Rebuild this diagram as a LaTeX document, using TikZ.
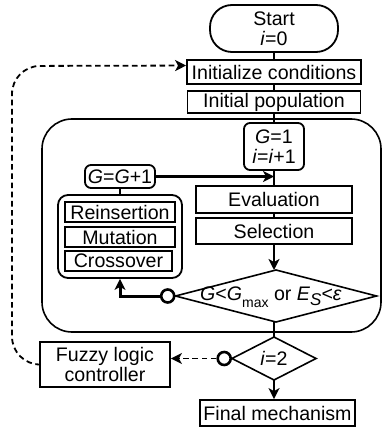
\documentclass[tikz,border=0pt]{standalone}
\usepackage{fontspec}
\setmainfont{Liberation Sans}
\usetikzlibrary{arrows.meta,calc}
\tikzset{
  box/.style={draw, line width=0.9pt, inner sep=0pt, align=center, font=\fontsize{9.8}{10}\selectfont},
  rbox/.style={box, rounded corners=3pt},
  diatext/.style={inner sep=0pt, align=center, font=\fontsize{9.8}{10}\selectfont},
  diaedge/.style={line width=0.8pt, line join=miter},
  conn/.style={line width=1.1pt},
  arr/.style={conn, -{Stealth[length=5.5pt,width=5.5pt,inset=1.5pt]}},
  thickarr/.style={line width=1.5pt, -{Stealth[length=5.5pt,width=5.5pt,inset=1.5pt]}},
  dasharr/.style={line width=0.9pt, dash pattern=on 2.8pt off 1.8pt, -{Stealth[length=5.5pt,width=5.5pt,inset=1.5pt]}},
  ring/.style={circle, draw, line width=1.3pt, minimum size=6.5pt, inner sep=0pt, fill=white},
}
\begin{document}
\begin{tikzpicture}[x=0.5pt,y=-0.5pt]
\useasboundingbox (0,0) rectangle (383,427);
\draw[line width=0.8pt, rounded corners=15pt] (42,119) rectangle (381,332);
\node[box, rounded corners=11pt, minimum width=64pt, minimum height=23.5pt] (start) at (274,28.5) {Start\\\textit{i}=0};
\node[box, minimum width=87pt, minimum height=12pt] (init) at (274,72) {Initialize conditions};
\node[box, minimum width=86.5pt, minimum height=11pt] (pop) at (274,102) {Initial population};
\node[rbox, minimum width=30pt, minimum height=23.5pt] (g1) at (274,146.5) {\textit{G}=1\\\textit{i}=\textit{i}+1};
\node[rbox, minimum width=35pt, minimum height=11.5pt] (gg1) at (120,176.5) {\textit{G}=\textit{G}+1};
\node[box, rounded corners=5pt, minimum width=62pt, minimum height=41.5pt] (ops) at (120,236.5) {};
\node[box, minimum width=55pt, minimum height=10pt] (reins) at (120,212) {Reinsertion};
\node[box, minimum width=55pt, minimum height=10pt] (mut) at (120,237) {Mutation};
\node[box, minimum width=53.5pt, minimum height=10pt] (cross) at (118.5,261) {Crossover};
\node[box, minimum width=78pt, minimum height=13.5pt] (eval) at (274,199.5) {Evaluation};
\node[box, minimum width=78pt, minimum height=13pt] (sel) at (274,231) {Selection};
% decision 1
\coordinate (d1c) at (276,296);
\node[diatext] (d1) at (271,297) {\textit{G}<\textit{G}\raisebox{-0.7ex}{\fontsize{7}{7}\selectfont max} or \textit{E}\raisebox{-0.5ex}{\fontsize{8.5}{8.5}\selectfont\textit{S}}<\textit{ε}};
\coordinate (d1n) at ($(d1c)+(0,-26)$);
\coordinate (d1s) at ($(d1c)+(0,26)$);
\coordinate (d1w) at ($(d1c)+(-100.5,0)$);
\coordinate (d1e) at ($(d1c)+(100.5,0)$);
\draw[diaedge] (d1n) -- (d1e) -- (d1s) -- (d1w) -- cycle;
\node[ring, anchor=east] (c1) at (d1w) {};
% decision 2
\node[diatext] (d2) at (274,358.5) {\textit{i}=2};
\coordinate (d2n) at ($(d2.center)+(0,-21.5)$);
\coordinate (d2s) at ($(d2.center)+(0,21.5)$);
\coordinate (d2w) at ($(d2.center)+(-42,0)$);
\coordinate (d2e) at ($(d2.center)+(42,0)$);
\draw[diaedge] (d2n) -- (d2e) -- (d2s) -- (d2w) -- cycle;
\node[ring, anchor=east] (c2) at (d2w) {};
\node[box, minimum width=65pt, minimum height=22.5pt] (fuzzy) at (105,364.5) {Fuzzy logic\\controller};
\node[box, minimum width=77.5pt, minimum height=13pt] (final) at (277.5,413) {Final mechanism};
\draw[conn] (start.south) -- (init.north);
\draw[conn] (init.south) -- (pop.north);
\draw[conn] (pop.south) -- (g1.north);
\draw[conn] (g1.south) -- (eval.north);
\draw[arr] (gg1.east) -- (gg1.east -| g1.south);
\draw[conn] (gg1.south) -- (ops.north);
\draw[conn] (eval.south) -- (sel.north);
\draw[arr] (sel.south) -- (sel.south |- d1n);
\draw[thickarr] (c1.west) -| (ops.south);
\draw[conn] (d2n |- d1s) -- (d2n);
\draw[arr] (d2s) -- (d2s |- final.north);
\draw[dasharr] (c2.west) -- (c2.west -| fuzzy.east);
\coordinate (lp) at (12,66);
\draw[dasharr, rounded corners=14pt] (fuzzy.west) -| (lp) -- ($(init.north west)!0.25!(init.south west)$);
\end{tikzpicture}
\end{document}
